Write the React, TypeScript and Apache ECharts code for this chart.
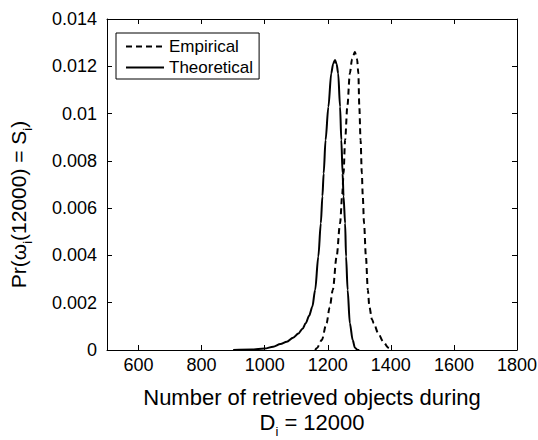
import React, { useEffect, useRef } from "react";
import * as echarts from "echarts";

const xTickValues = [600, 800, 1000, 1200, 1400, 1600, 1800];

const empiricalX = [1160, 1165, 1181, 1196, 1206, 1216, 1228, 1239, 1246, 1250, 1255, 1262, 1270, 1277, 1286, 1293, 1297, 1300, 1304, 1308, 1311, 1315, 1321, 1327, 1332, 1340, 1346, 1360, 1376, 1392, 1405];
const empiricalY = [0, 0.00007, 0.00042, 0.00113, 0.0018, 0.00254, 0.00395, 0.00536, 0.0066, 0.00747, 0.00888, 0.01029, 0.0117, 0.0123, 0.0126, 0.0123, 0.0117, 0.01029, 0.00888, 0.00747, 0.0065, 0.00536, 0.00395, 0.00254, 0.00183, 0.0013, 0.00113, 0.0007, 0.00035, 0.0001, 0];

const theoreticalX = [900, 960, 1000, 1027, 1050, 1070, 1090, 1107, 1120, 1130, 1141, 1151, 1160, 1170, 1178, 1183, 1187, 1193, 1202, 1211, 1217, 1223, 1228, 1233, 1239, 1243, 1247, 1250, 1255, 1258, 1263, 1270, 1279, 1286, 1295, 1300];
const theoreticalY = [0, 0.00002, 0.00006, 0.00014, 0.00025, 0.00035, 0.00052, 0.0007, 0.0009, 0.00113, 0.00145, 0.00183, 0.00254, 0.00395, 0.00536, 0.0065, 0.00747, 0.00888, 0.01029, 0.0117, 0.0121, 0.01227, 0.0121, 0.0117, 0.01029, 0.00888, 0.00747, 0.0065, 0.00536, 0.00395, 0.00254, 0.00113, 0.00042, 0.0001, 0, 0];

const FONT = "'Liberation Sans', Arial, Helvetica, sans-serif";
const INK = "#000";

const zip = (xs: number[], ys: number[]) => xs.map((x, i) => [x, ys[i]]);

export default function App() {
  const ref = useRef<HTMLDivElement>(null);
  useEffect(() => {
    if (!ref.current) return;
    const chart = echarts.init(ref.current, undefined, { renderer: "svg" });
    const axisLine = { show: true, onZero: false, lineStyle: { color: INK, width: 1 } };
    const tick = { show: true, inside: true, length: 5, lineStyle: { color: INK, width: 1 } };
    const sub = {
      fontSize: 13,
      fontFamily: FONT,
      color: INK,
      lineHeight: 13,
      verticalAlign: "top",
      padding: [15, 0, 0, 0],
    };
    chart.setOption({
      animation: false,
      backgroundColor: "#fff",
      textStyle: { fontFamily: FONT },
      grid: { left: 107, right: 21, top: 19, bottom: 90, containLabel: false, outerBoundsMode: "none" },
      legend: {
        orient: "vertical",
        left: 116,
        top: 33,
        itemWidth: 38,
        itemHeight: 14,
        itemGap: 4,
        padding: [5, 6, 3, 9],
        borderColor: INK,
        borderWidth: 1,
        backgroundColor: "#fff",
        itemStyle: { opacity: 0 },
        textStyle: { fontSize: 17, color: INK, fontFamily: FONT },
        data: ["Empirical", "Theoretical"],
      },
      xAxis: [
        {
          type: "value",
          min: 500,
          max: 1800,
          position: "bottom",
          axisLine,
          axisTick: { ...tick, customValues: xTickValues },
          axisLabel: {
            customValues: xTickValues,
            fontSize: 18,
            color: INK,
            margin: 6,
            fontFamily: FONT,
            formatter: (v: number) => String(v),
          },
          splitLine: { show: false },
          name: "Number of retrieved objects during\nD{sub|i} = 12000",
          nameLocation: "middle",
          nameGap: 35,
          nameMoveOverlap: false,
          nameTextStyle: { fontSize: 22, lineHeight: 25, color: INK, fontFamily: FONT, rich: { sub } },
        },
        {
          type: "value",
          min: 500,
          max: 1800,
          position: "top",
          axisLine,
          axisTick: { ...tick, customValues: xTickValues },
          axisLabel: { show: false },
          splitLine: { show: false },
        },
      ],
      yAxis: [
        {
          type: "value",
          min: 0,
          max: 0.014,
          interval: 0.002,
          position: "left",
          axisLine,
          axisTick: tick,
          axisLabel: {
            fontSize: 18,
            color: INK,
            margin: 10,
            fontFamily: FONT,
            formatter: (v: number) => String(+v.toFixed(3)),
          },
          splitLine: { show: false },
          name: "Pr(\u03c9{sub|i}(12000) = S{sub|i})",
          nameLocation: "middle",
          nameRotate: 90,
          nameGap: 76,
          nameMoveOverlap: false,
          nameTextStyle: {
            fontSize: 21,
            lineHeight: 25,
            color: INK,
            fontFamily: FONT,
            padding: [0, 40, 0, 0],
            rich: { sub },
          },
        },
        {
          type: "value",
          min: 0,
          max: 0.014,
          interval: 0.002,
          position: "right",
          axisLine,
          axisTick: tick,
          axisLabel: { show: false },
          splitLine: { show: false },
        },
      ],
      series: [
        {
          name: "Empirical",
          type: "line",
          data: zip(empiricalX, empiricalY),
          symbol: "none",
          smooth: 0.3,
          smoothMonotone: "x",
          lineStyle: { color: INK, width: 2, type: [6, 4] },
          itemStyle: { color: INK },
        },
        {
          name: "Theoretical",
          type: "line",
          data: zip(theoreticalX, theoreticalY),
          symbol: "none",
          smooth: 0.3,
          smoothMonotone: "x",
          lineStyle: { color: INK, width: 2 },
          itemStyle: { color: INK },
        },
      ],
    });
    return () => chart.dispose();
  }, []);
  return (
    <div
      ref={ref}
      style={{ position: "absolute", left: 0, top: 0, width: 538, height: 440 }}
    />
  );
}
